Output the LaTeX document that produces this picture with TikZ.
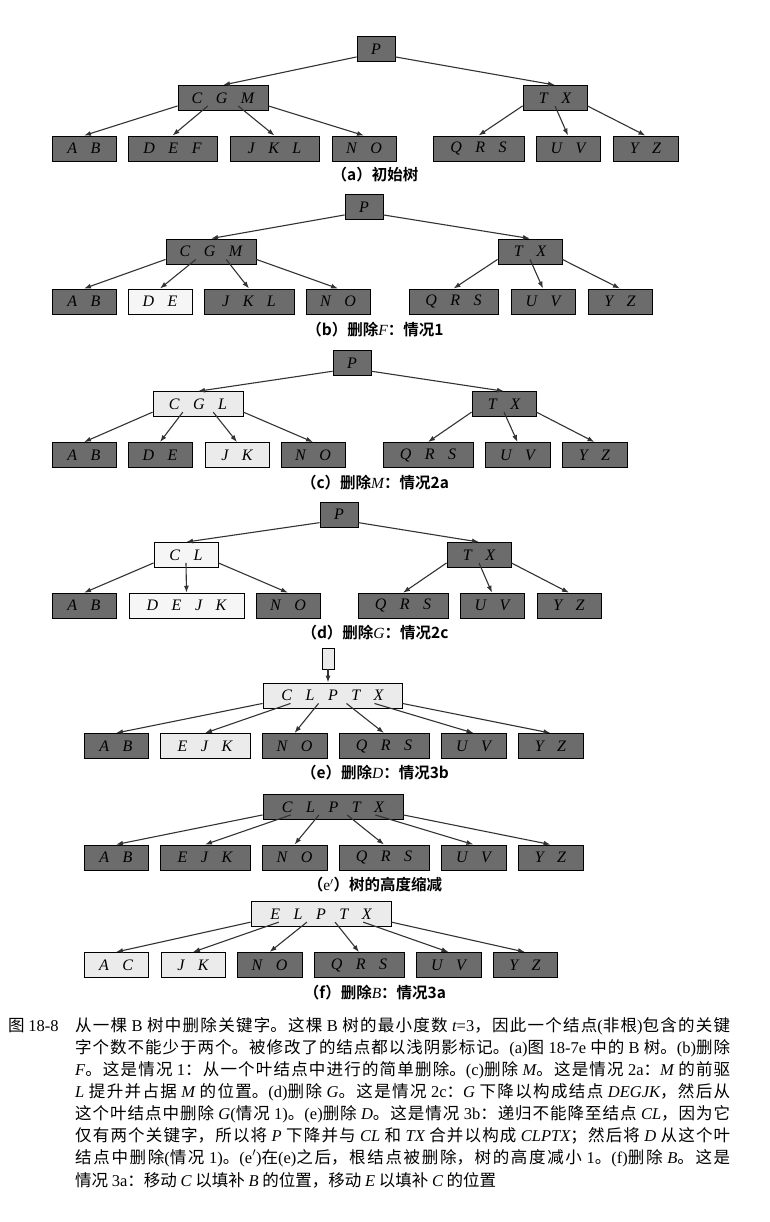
\documentclass[tikz,border=0pt]{standalone}
\usepackage{fontspec}
\setmainfont{Liberation Serif}
\newfontfamily\cjk{Noto Sans CJK SC}
\newfontfamily\cjkb{Noto Sans CJK SC Bold}
\usetikzlibrary{arrows.meta,calc}
\definecolor{dkgray}{HTML}{6C6C6C}
\definecolor{ltgray}{HTML}{EBEBEB}
\definecolor{wtgray}{HTML}{F6F6F6}
\definecolor{lineg}{HTML}{333333}
\newcommand\gp{\hspace{13.5pt}}
\newcommand\rmn[1]{{\rmfamily #1}}
\newcommand\itn[1]{{\rmfamily\itshape #1}}
\newcommand\bodyfont{\fontsize{16.5}{20}\selectfont\cjk\XeTeXlinebreaklocale "zh"\XeTeXlinebreakskip=0pt plus 3pt minus 0.5pt\relax}
\newcommand\bline[1]{\parbox{655pt}{\parfillskip=0pt\relax #1}}
\newcommand\blast[1]{\parbox{655pt}{#1}}
\newcommand\ptr[3]{\draw[pointer] ($(#1.south west)!#2!(#1.south east)+(0,-5)$) -- (#3.north);}
\tikzset{
  bnode/.style={draw=black, line width=0.9pt, minimum height=25pt, inner sep=0pt,
    font=\fontsize{16}{18}\selectfont\itshape},
  dkn/.style={bnode, fill=dkgray},
  ltn/.style={bnode, fill=ltgray},
  wtn/.style={bnode, fill=wtgray},
  pointer/.style={draw=lineg, line width=1.1pt, -{Latex[length=7pt,width=5pt]}},
  capn/.style={font=\cjkb\fontsize{15.5}{18}\selectfont, inner sep=0pt},
  linen/.style={anchor=west, inner sep=0pt, font=\bodyfont},
}
\begin{document}
\begin{tikzpicture}[x=1pt,y=-1pt]
\path[use as bounding box, fill=white] (0,0) rectangle (770,1222);

% ---------- (a)
\node[dkn, minimum width=38] (aP) at (376,49) {P};
\node[dkn, minimum width=90] (aCGM) at (223,98) {C\gp G\gp M};
\node[dkn, minimum width=64] (aTX) at (555,98) {T\gp X};
\node[dkn, minimum width=64] (aAB) at (84,148.5) {A\gp B};
\node[dkn, minimum width=89] (aDEF) at (172.5,148.5) {D\gp E\gp F};
\node[dkn, minimum width=89] (aJKL) at (274.5,148.5) {J\gp K\gp L};
\node[dkn, minimum width=64] (aNO) at (364,148.5) {N\gp O};
\node[dkn, minimum width=91] (aQRS) at (478.5,148.5) {Q\gp R\gp S};
\node[dkn, minimum width=64] (aUV) at (568,148.5) {U\gp V};
\node[dkn, minimum width=65] (aYZ) at (645.5,148.5) {Y\gp Z};
\ptr{aP}{0}{aCGM}\ptr{aP}{1}{aTX}
\ptr{aCGM}{0}{aAB}\ptr{aCGM}{0.333}{aDEF}\ptr{aCGM}{0.667}{aJKL}\ptr{aCGM}{1}{aNO}
\ptr{aTX}{0}{aQRS}\ptr{aTX}{0.5}{aUV}\ptr{aTX}{1}{aYZ}
\node[capn] (capa) at (375,175) {（a）初始树};

% ---------- (b)
\node[dkn, minimum width=38] (bP) at (364,207) {P};
\node[dkn, minimum width=90] (bCGM) at (211,251.5) {C\gp G\gp M};
\node[dkn, minimum width=64] (bTX) at (530,251.5) {T\gp X};
\node[dkn, minimum width=64] (bAB) at (84,301.5) {A\gp B};
\node[wtn, minimum width=64] (bDE) at (160,301.5) {D\gp E};
\node[dkn, minimum width=90] (bJKL) at (249,301.5) {J\gp K\gp L};
\node[dkn, minimum width=64] (bNO) at (338,301.5) {N\gp O};
\node[dkn, minimum width=89] (bQRS) at (453.5,301.5) {Q\gp R\gp S};
\node[dkn, minimum width=64] (bUV) at (543,301.5) {U\gp V};
\node[dkn, minimum width=64] (bYZ) at (620,301.5) {Y\gp Z};
\ptr{bP}{0}{bCGM}\ptr{bP}{1}{bTX}
\ptr{bCGM}{0}{bAB}\ptr{bCGM}{0.333}{bDE}\ptr{bCGM}{0.667}{bJKL}\ptr{bCGM}{1}{bNO}
\ptr{bTX}{0}{bQRS}\ptr{bTX}{0.5}{bUV}\ptr{bTX}{1}{bYZ}
\node[capn] (capb) at (375,330) {（b）删除\itn{F}：情况1};

% ---------- (c)
\node[dkn, minimum width=38] (cP) at (352,363.3) {P};
\node[ltn, minimum width=90] (cCGL) at (198,404.2) {C\gp G\gp L};
\node[dkn, minimum width=64] (cTX) at (504,404.2) {T\gp X};
\node[dkn, minimum width=64] (cAB) at (84,455) {A\gp B};
\node[dkn, minimum width=64] (cDE) at (160,455) {D\gp E};
\node[ltn, minimum width=64] (cJK) at (237,455) {J\gp K};
\node[dkn, minimum width=64] (cNO) at (313,455) {N\gp O};
\node[dkn, minimum width=90] (cQRS) at (428,455) {Q\gp R\gp S};
\node[dkn, minimum width=65] (cUV) at (517.5,455) {U\gp V};
\node[dkn, minimum width=65] (cYZ) at (594.5,455) {Y\gp Z};
\ptr{cP}{0}{cCGL}\ptr{cP}{1}{cTX}
\ptr{cCGL}{0}{cAB}\ptr{cCGL}{0.333}{cDE}\ptr{cCGL}{0.667}{cJK}\ptr{cCGL}{1}{cNO}
\ptr{cTX}{0}{cQRS}\ptr{cTX}{0.5}{cUV}\ptr{cTX}{1}{cYZ}
\node[capn] (capc) at (375,483) {（c）删除\itn{M}：情况2a};

% ---------- (d)
\node[dkn, minimum width=38] (dP) at (339,514.7) {P};
\node[wtn, minimum width=64] (dCL) at (186,555) {C\gp L};
\node[dkn, minimum width=64] (dTX) at (479,555) {T\gp X};
\node[dkn, minimum width=64] (dAB) at (84,605.7) {A\gp B};
\node[wtn, minimum width=115] (dDEJK) at (186.5,605.7) {D\gp E\gp J\gp K};
\node[dkn, minimum width=64] (dNO) at (288,605.7) {N\gp O};
\node[dkn, minimum width=90] (dQRS) at (403,605.7) {Q\gp R\gp S};
\node[dkn, minimum width=64] (dUV) at (492,605.7) {U\gp V};
\node[dkn, minimum width=64] (dYZ) at (569,605.7) {Y\gp Z};
\ptr{dP}{0}{dCL}\ptr{dP}{1}{dTX}
\ptr{dCL}{0}{dAB}\ptr{dCL}{0.5}{dDEJK}\ptr{dCL}{1}{dNO}
\ptr{dTX}{0}{dQRS}\ptr{dTX}{0.5}{dUV}\ptr{dTX}{1}{dYZ}
\node[capn] (capd) at (375,633) {（d）删除\itn{G}：情况2c};

% ---------- (e)
\node[ltn, minimum width=12, minimum height=21] (eR) at (328,658.5) {};
\node[ltn, minimum width=139] (eC) at (332.5,695.5) {C\gp L\gp P\gp T\gp X};
\node[dkn, minimum width=64] (eAB) at (116,746) {A\gp B};
\node[ltn, minimum width=90] (eEJK) at (205,746) {E\gp J\gp K};
\node[dkn, minimum width=65] (eNO) at (294.5,746) {N\gp O};
\node[dkn, minimum width=90] (eQRS) at (384,746) {Q\gp R\gp S};
\node[dkn, minimum width=65] (eUV) at (473.5,746) {U\gp V};
\node[dkn, minimum width=65] (eYZ) at (550.5,746) {Y\gp Z};
\draw[pointer] (eR.south) -- (eR.south |- eC.north);
\ptr{eC}{0}{eAB}\ptr{eC}{0.2}{eEJK}\ptr{eC}{0.4}{eNO}\ptr{eC}{0.6}{eQRS}\ptr{eC}{0.8}{eUV}\ptr{eC}{1}{eYZ}
\node[capn] (cape) at (375,773) {（e）删除\itn{D}：情况3b};

% ---------- (e')
\node[dkn, minimum width=140] (fC) at (333,807) {C\gp L\gp P\gp T\gp X};
\node[dkn, minimum width=64] (fAB) at (116,857.5) {A\gp B};
\node[dkn, minimum width=90] (fEJK) at (205,857.5) {E\gp J\gp K};
\node[dkn, minimum width=65] (fNO) at (294.5,857.5) {N\gp O};
\node[dkn, minimum width=90] (fQRS) at (384,857.5) {Q\gp R\gp S};
\node[dkn, minimum width=65] (fUV) at (473.5,857.5) {U\gp V};
\node[dkn, minimum width=65] (fYZ) at (550.5,857.5) {Y\gp Z};
\ptr{fC}{0}{fAB}\ptr{fC}{0.2}{fEJK}\ptr{fC}{0.4}{fNO}\ptr{fC}{0.6}{fQRS}\ptr{fC}{0.8}{fUV}\ptr{fC}{1}{fYZ}
\node[capn] (capep) at (375,885) {（\rmn{e$'$}）树的高度缩减};

% ---------- (f)
\node[ltn, minimum width=140] (gC) at (321,914.2) {E\gp L\gp P\gp T\gp X};
\node[ltn, minimum width=64] (gAC) at (116,965) {A\gp C};
\node[ltn, minimum width=64] (gJK) at (193,965) {J\gp K};
\node[dkn, minimum width=65] (gNO) at (269.5,965) {N\gp O};
\node[dkn, minimum width=90] (gQRS) at (359,965) {Q\gp R\gp S};
\node[dkn, minimum width=65] (gUV) at (448.5,965) {U\gp V};
\node[dkn, minimum width=64] (gYZ) at (525,965) {Y\gp Z};
\ptr{gC}{0}{gAC}\ptr{gC}{0.2}{gJK}\ptr{gC}{0.4}{gNO}\ptr{gC}{0.6}{gQRS}\ptr{gC}{0.8}{gUV}\ptr{gC}{1}{gYZ}
\node[capn] (capf) at (375,993) {（f）删除\itn{B}：情况3a};

% ---------- figure caption
\node[linen] (fig) at (8,1026) {图 \rmn{18-8}};
\node[linen] (l1) at (75,1026) {\bline{从一棵 \rmn{B} 树中删除关键字。这棵 \rmn{B} 树的最小度数 \itn{t}\rmn{=3}，因此一个结点\rmn{(}非根\rmn{)}包含的关键}};
\node[linen] (l2) at (75,1048) {\bline{字个数不能少于两个。被修改了的结点都以浅阴影标记。\rmn{(a)}图 \rmn{18-7e} 中的 \rmn{B} 树。\rmn{(b)}删除}};
\node[linen] (l3) at (75,1070) {\bline{\itn{F}。这是情况 \rmn{1}：从一个叶结点中进行的简单删除。\rmn{(c)}删除 \itn{M}。这是情况 \rmn{2a}：\itn{M} 的前驱}};
\node[linen] (l4) at (75,1092) {\bline{\itn{L} 提升并占据 \itn{M} 的位置。\rmn{(d)}删除 \itn{G}。这是情况 \rmn{2c}：\itn{G} 下降以构成结点 \itn{DEGJK}，然后从}};
\node[linen] (l5) at (75,1114) {\bline{这个叶结点中删除 \itn{G}\rmn{(}情况 \rmn{1)}。\rmn{(e)}删除 \itn{D}。这是情况 \rmn{3b}：递归不能降至结点 \itn{CL}，因为它}};
\node[linen] (l6) at (75,1136) {\bline{仅有两个关键字，所以将 \itn{P} 下降并与 \itn{CL} 和 \itn{TX} 合并以构成 \itn{CLPTX}；然后将 \itn{D} 从这个叶}};
\node[linen] (l7) at (75,1158) {\bline{结点中删除\rmn{(}情况 \rmn{1)}。\rmn{(e$'$)}在\rmn{(e)}之后，根结点被删除，树的高度减小 \rmn{1}。\rmn{(f)}删除 \itn{B}。这是}};
\node[linen] (l8) at (75,1180) {\blast{情况 \rmn{3a}：移动 \itn{C} 以填补 \itn{B} 的位置，移动 \itn{E} 以填补 \itn{C} 的位置}};
\end{tikzpicture}
\end{document}
